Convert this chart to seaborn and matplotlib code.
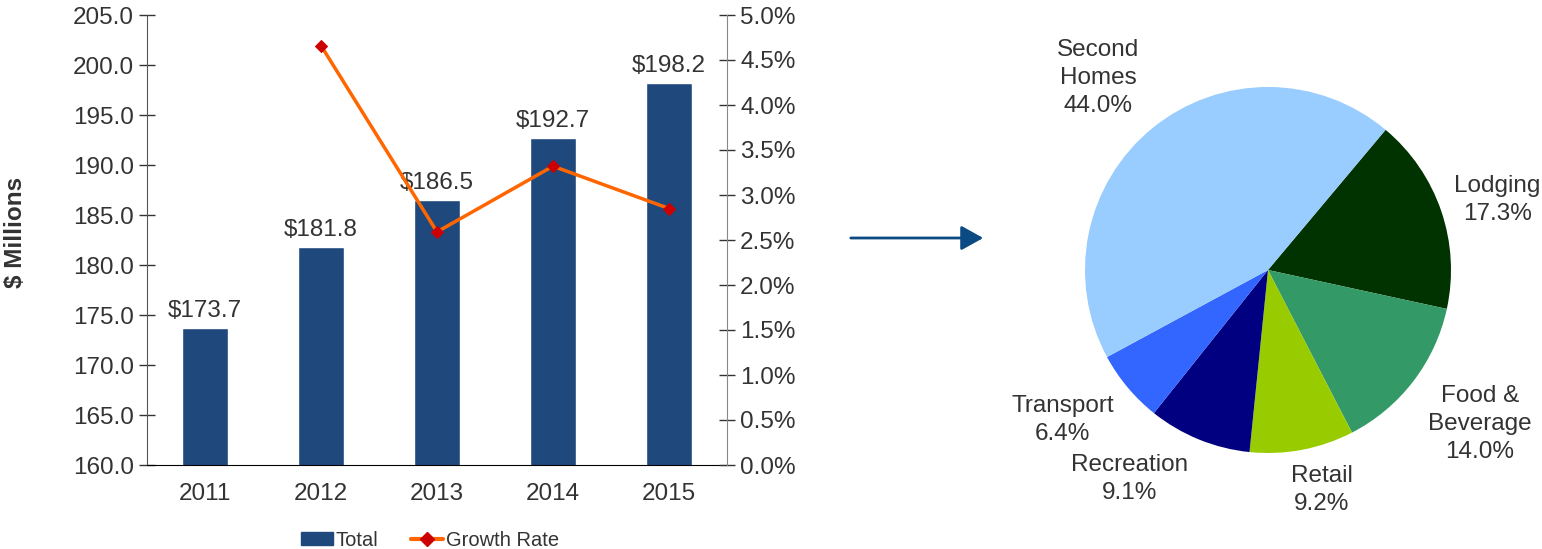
import numpy as np
import pandas as pd
import matplotlib
matplotlib.use("Agg")
import matplotlib.pyplot as plt
import seaborn as sns
from matplotlib.patches import Patch, FancyArrowPatch
from matplotlib.lines import Line2D
from matplotlib.ticker import FuncFormatter, MultipleLocator, FixedLocator

# ---- data ----
years = ["2011", "2012", "2013", "2014", "2015"]
totals = [173.7, 181.8, 186.5, 192.7, 198.2]
growth_years = ["2012", "2013", "2014", "2015"]
growth_pct = [4.66, 2.59, 3.32, 2.85]

pie_labels = ["Lodging", "Food &\nBeverage", "Retail", "Recreation", "Transport", "Second\nHomes"]
pie_values = [17.3, 14.0, 9.2, 9.1, 6.4, 44.0]

# ---- style ----
sns.set_style("white")
plt.rcParams["font.family"] = ["Liberation Sans", "DejaVu Sans"]
txt = "#333333"
bar_color = "#1F497D"
line_color = "#FF6600"
marker_color = "#CC0000"
pie_colors = ["#003300", "#339966", "#99CC00", "#000080", "#3366FF", "#99CCFF"]
# label placement (radius, angle offset from wedge middle, degrees)
label_dist = [1.31, 1.43, 1.24, 1.37, 1.39, 1.40]
label_shift = [-2.0, 1.5, 3.0, -11.2, -3.8, 2.3]
FS = 17.5

fig = plt.figure(figsize=(15.42, 5.49), dpi=100)

# ---- bar chart ----
ax = fig.add_axes([147/1542, 1-465/549, 580/1542, 450/549])
df = pd.DataFrame({"year": years, "total": totals})
sns.barplot(data=df, x="year", y="total", color=bar_color, width=0.4,
            saturation=1, ax=ax)
ax.set_ylim(160, 205)
ax.set_xlim(-0.5, len(years) - 0.5)
ax.yaxis.set_major_locator(MultipleLocator(5))
ax.yaxis.set_major_formatter(FuncFormatter(lambda v, p: f"{v:.1f}"))
ax.set_xlabel("")
ax.set_ylabel("")
fig.text(16/1542, 1-232/549, "$ Millions", rotation=90, ha="center", va="center",
         fontsize=17.5, fontweight="bold", color=txt)
ax.tick_params(axis="y", direction="inout", length=11, width=1, color="#333333",
               labelsize=FS, labelcolor=txt, pad=4)
ax.tick_params(axis="x", which="major", length=0, labelsize=FS, labelcolor=txt, pad=13)
ax.xaxis.set_minor_locator(FixedLocator(np.arange(-0.5, len(years), 1.0)))
ax.tick_params(axis="x", which="minor", direction="out", length=8, width=1, color="#555555")
for s in ["top", "right"]:
    ax.spines[s].set_visible(False)
ax.spines["left"].set_color("#555555")
ax.spines["bottom"].set_color("#000000")
for i, v in enumerate(totals):
    ax.text(i, v + 0.6, f"${v:.1f}", ha="center", va="bottom", fontsize=FS, color=txt)

# ---- growth line ----
ax2 = ax.twinx()
gx = [years.index(y) for y in growth_years]
gdf = pd.DataFrame({"x": gx, "g": [g / 100 for g in growth_pct]})
sns.lineplot(data=gdf, x="x", y="g", ax=ax2, color=line_color, linewidth=2.5,
             marker="D", markersize=6, markerfacecolor=marker_color,
             markeredgecolor=marker_color)
ax2.set_ylim(0, 0.05)
ax2.set_xlim(-0.5, len(years) - 0.5)
ax2.yaxis.set_major_locator(MultipleLocator(0.005))
ax2.yaxis.set_major_formatter(FuncFormatter(lambda v, p: f"{v*100:.1f}%"))
ax2.set_ylabel("")
ax2.tick_params(axis="y", direction="inout", length=11, width=1, color="#333333",
                labelsize=FS, labelcolor=txt, pad=4)
for s in ["top", "left", "bottom"]:
    ax2.spines[s].set_visible(False)
ax2.spines["right"].set_color("#888888")

handles = [Patch(facecolor=bar_color, edgecolor=bar_color),
           Line2D([0], [0], color=line_color, linewidth=3, marker="D",
                  markersize=7, markerfacecolor=marker_color, markeredgecolor=marker_color)]
fig.legend(handles, ["Total", "Growth Rate"], loc="center", bbox_to_anchor=(430/1542, 1-540/549),
           ncol=2, frameon=False, fontsize=14.5, handlelength=1.6, handleheight=0.6,
           handletextpad=0.15, columnspacing=1.6, labelcolor=txt, borderpad=0)

# ---- arrow ----
fig.patches.append(FancyArrowPatch(
    (848/1542, 1-238/549), (986/1542, 1-238/549), transform=fig.transFigure,
    arrowstyle="-|>,head_length=9,head_width=5", mutation_scale=1.5,
    color="#0B4A82", linewidth=2))

# ---- pie ----
pax = fig.add_axes([(1268-183)/1542, 1-(270+183)/549, 366/1542, 366/549])
wedges, texts = pax.pie(pie_values, colors=pie_colors, startangle=50, counterclock=False,
                        labels=[f"{l}\n{v:.1f}%" for l, v in zip(pie_labels, pie_values)],
                        labeldistance=1.35, radius=1,
                        textprops=dict(fontsize=FS, color=txt, ha="center", va="center",
                                       multialignment="center", linespacing=1.35),
                        wedgeprops=dict(linewidth=0))
for w, t, d, sh in zip(wedges, texts, label_dist, label_shift):
    ang = np.deg2rad((w.theta1 + w.theta2) / 2 + sh)
    t.set_position((d * np.cos(ang), d * np.sin(ang)))
pax.set_xlim(-1, 1)
pax.set_ylim(-1, 1)
pax.set_aspect("equal")
pax.axis("off")

fig.savefig("out.png", dpi=100)
